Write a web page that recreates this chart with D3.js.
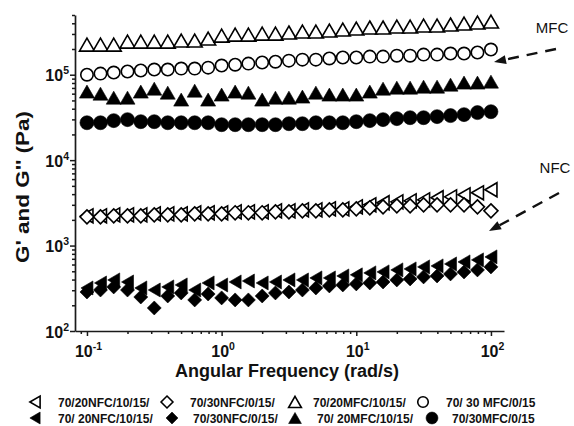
<!DOCTYPE html>
<html>
<head>
<meta charset="utf-8">
<script src="https://cdn.jsdelivr.net/npm/d3@7"></script>
<style>
  html, body { margin: 0; padding: 0; background: #fff; }
  svg { display: block; font-family: "Liberation Sans", Arial, sans-serif; }
</style>
</head>
<body>
<svg id="chart" width="574" height="426"></svg>
<script>
// Angular frequency sweep (rad/s), 10 points per decade
const frequency = [0.1, 0.126, 0.158, 0.2, 0.251, 0.316, 0.398, 0.501, 0.631, 0.794,
  1, 1.26, 1.58, 2, 2.51, 3.16, 3.98, 5.01, 6.31, 7.94,
  10, 12.6, 15.8, 20, 25.1, 31.6, 39.8, 50.1, 63.1, 79.4, 100];

// Moduli (Pa), open symbols
const openNfc20 = [2230, 2230, 2290, 2290, 2290, 2350, 2350, 2350, 2420, 2420,
  2420, 2480, 2480, 2480, 2550, 2550, 2620, 2620, 2690, 2690,
  2840, 3000, 3170, 3250, 3340, 3430, 3630, 3720, 3930, 4150, 4500];
const openNfc30 = [2170, 2170, 2230, 2230, 2230, 2290, 2290, 2290, 2350, 2350,
  2350, 2420, 2420, 2420, 2480, 2480, 2550, 2550, 2620, 2620,
  2690, 2770, 2840, 2920, 2920, 3000, 3000, 3000, 3000, 2840, 2550];
const openMfc20 = [225000, 225000, 225000, 244000, 244000, 244000, 244000, 251000, 251000, 265000,
  287000, 295000, 295000, 303000, 303000, 312000, 320000, 320000, 329000, 338000,
  347000, 357000, 357000, 366000, 366000, 376000, 376000, 387000, 397000, 408000, 419000];
const openMfc30 = [100000, 103000, 106000, 109000, 112000, 115000, 115000, 118000, 118000, 121000,
  128000, 131000, 135000, 139000, 142000, 146000, 150000, 150000, 155000, 159000,
  159000, 163000, 163000, 167000, 167000, 172000, 172000, 177000, 177000, 182000, 197000];

// Moduli (Pa), filled symbols
const filledNfc20 = [319, 365, 396, 375, 319, 302, 328, 346, 302, 365,
  346, 375, 385, 365, 375, 396, 396, 418, 418, 441,
  454, 479, 492, 519, 533, 563, 578, 610, 644, 680, 737];
const filledNfc30 = [286, 302, 328, 302, 250, 186, 257, 279, 231, 271,
  244, 231, 231, 257, 279, 286, 302, 319, 337, 346,
  356, 365, 375, 396, 407, 430, 441, 466, 492, 519, 563];
const filledMfc20 = [63400, 60000, 53900, 53900, 63400, 68700, 61700, 51100, 65100, 51100,
  58500, 63400, 61700, 51100, 53900, 53900, 55400, 61700, 58500, 58500,
  58500, 63400, 68700, 70600, 70600, 72500, 72500, 76500, 80800, 80800, 83000];
const filledMfc30 = [27400, 27400, 29000, 29800, 28200, 28200, 27400, 27400, 27400, 27400,
  26000, 26000, 26000, 26000, 26000, 26700, 26700, 27400, 27400, 27400,
  28200, 29000, 29800, 30600, 31400, 31400, 32300, 33200, 34100, 36000, 36900];

const legendLabels = ["70/20NFC/10/15/", "70/30NFC/0/15/", "70/20MFC/10/15/", "70/ 30 MFC/0/15",
  "70/ 20NFC/10/15/", "70/30NFC/0/15/", "70/ 20MFC/10/15/", "70/30MFC/0/15"];
const xTickExponents = [-1, 0, 1, 2];
const yTickExponents = [2, 3, 4, 5];
const xTitle = "Angular Frequency (rad/s)";
const yTitle = "G' and G'' (Pa)";

// Marker outlines, centred on the data point
const shapes = {
  left: (k) => { const w = 12 * k, h = 14 * k; return `M${-w / 2},0L${w / 2},${-h / 2}L${w / 2},${h / 2}Z`; },
  diamond: (k) => { const s = 7 * k; return `M0,${-s}L${s},0L0,${s}L${-s},0Z`; },
  up: (k) => { const w = 15 * k, h = 13 * k; return `M0,${-h / 2}L${w / 2},${h / 2}L${-w / 2},${h / 2}Z`; },
  circle: (k) => { const r = 6.2 * k; return `M${-r},0a${r},${r} 0 1,0 ${2 * r},0a${r},${r} 0 1,0 ${-2 * r},0Z`; },
  dot: (k) => { const r = 7 * k; return `M${-r},0a${r},${r} 0 1,0 ${2 * r},0a${r},${r} 0 1,0 ${-2 * r},0Z`; }
};

const series = [
  { values: openNfc20, shape: "left", filled: false },
  { values: openNfc30, shape: "diamond", filled: false },
  { values: openMfc20, shape: "up", filled: false },
  { values: openMfc30, shape: "circle", filled: false },
  { values: filledNfc20, shape: "left", filled: true },
  { values: filledNfc30, shape: "diamond", filled: true },
  { values: filledMfc20, shape: "up", filled: true },
  { values: filledMfc30, shape: "dot", filled: true }
];

const svg = d3.select("#chart");
const x = d3.scaleLog().domain([0.0815, 125]).range([75, 504]);
const y = d3.scaleLog().domain([100, 500000]).range([331, 15]);

function minorValues(scale) {
  const [a, b] = scale.domain();
  const out = [];
  for (let e = Math.floor(Math.log10(a)); e <= Math.ceil(Math.log10(b)); e++) {
    for (let m = 2; m <= 9; m++) {
      const v = m * Math.pow(10, e);
      if (v >= a && v <= b) out.push(v);
    }
  }
  return out;
}

const axisColor = "#1a1a1a";

// X axis: minor then major ticks
const gxMinor = svg.append("g").attr("transform", "translate(0,331)")
  .call(d3.axisBottom(x).tickValues(minorValues(x)).tickSize(3).tickSizeOuter(0).tickFormat(""));
const gx = svg.append("g").attr("transform", "translate(0,331)")
  .call(d3.axisBottom(x).tickValues(xTickExponents.map(e => Math.pow(10, e))).tickSize(5).tickSizeOuter(0));
gxMinor.select(".domain").remove();

// Y axis: minor then major ticks
const gyMinor = svg.append("g").attr("transform", "translate(75,0)")
  .call(d3.axisLeft(y).tickValues(minorValues(y)).tickSize(3).tickSizeOuter(0).tickFormat(""));
const gy = svg.append("g").attr("transform", "translate(75,0)")
  .call(d3.axisLeft(y).tickValues(yTickExponents.map(e => Math.pow(10, e))).tickSize(5).tickSizeOuter(0));
gyMinor.select(".domain").remove();

[gx, gy, gxMinor, gyMinor].forEach(g => {
  g.selectAll("line").attr("stroke", axisColor).attr("stroke-width", 1.5);
  g.selectAll(".domain").attr("stroke", axisColor).attr("stroke-width", 1.7);
});

// Power-of-ten tick labels with superscript exponents
function powerLabel(sel) {
  sel.each(function (d) {
    const t = d3.select(this);
    const exp = Math.round(Math.log10(d));
    t.text(null)
      .attr("fill", "#111").attr("font-weight", "bold").attr("font-size", 16)
      .attr("font-family", "'Liberation Sans', Arial, sans-serif");
    t.append("tspan").text("10");
    t.append("tspan").attr("dy", -7).attr("font-size", 10.5).text(String(exp));
  });
}
gx.selectAll(".tick text").call(powerLabel)
  .attr("y", 0).attr("dy", 0)
  .attr("transform", "translate(1,26)");
gy.selectAll(".tick text").call(powerLabel)
  .attr("x", -6).attr("dy", 6).attr("text-anchor", "end");

// Axis titles
svg.append("text")
  .attr("x", 287).attr("y", 377)
  .attr("text-anchor", "middle")
  .attr("font-weight", "bold").attr("font-size", 18).attr("fill", "#111")
  .text(xTitle);
svg.append("text")
  .attr("transform", "translate(29,187) rotate(-90)")
  .attr("text-anchor", "middle")
  .attr("font-weight", "bold").attr("font-size", 19).attr("fill", "#111")
  .attr("textLength", 152).attr("lengthAdjust", "spacingAndGlyphs")
  .text(yTitle);

// Data markers
const plot = svg.append("g");
series.forEach(s => {
  plot.append("g").selectAll("path")
    .data(s.values.map((v, i) => ({ f: frequency[i], v })))
    .join("path")
    .attr("transform", d => `translate(${x(d.f)},${y(d.v)})`)
    .attr("d", shapes[s.shape](1))
    .attr("fill", s.filled ? "#000" : "#fff")
    .attr("stroke", "#000")
    .attr("stroke-width", s.filled ? 0.6 : 1.6)
    .attr("stroke-linejoin", "miter");
});

// Legend (two rows of four)
const legendRows = [402, 418];
const legendMarkerX = [[35, 167, 295, 423], [35, 172, 295, 432]];
const legendTextX = [[58, 190, 313, 446], [58, 193, 317, 452]];
const legend = svg.append("g");
series.forEach((s, i) => {
  const row = Math.floor(i / 4), col = i % 4;
  const cy = legendRows[row];
  legend.append("path")
    .attr("transform", `translate(${legendMarkerX[row][col]},${cy})`)
    .attr("d", shapes[s.shape](0.85))
    .attr("fill", s.filled ? "#000" : "#fff")
    .attr("stroke", "#000")
    .attr("stroke-width", s.filled ? 0.6 : 1.6);
  legend.append("text")
    .attr("x", legendTextX[row][col]).attr("y", cy + 4.5)
    .attr("font-weight", "bold").attr("font-size", 12).attr("fill", "#111")
    .text(legendLabels[i]);
});

// Group annotations with dashed pointers
const notes = [
  { label: "MFC", tx: 552, ty: 33, from: [556, 49], to: [494, 62] },
  { label: "NFC", tx: 555, ty: 173, from: [559, 193], to: [489, 231] }
];
const ann = svg.append("g");
notes.forEach(n => {
  ann.append("text")
    .attr("x", n.tx).attr("y", n.ty).attr("text-anchor", "middle")
    .attr("font-size", 15).attr("fill", "#111")
    .text(n.label);
  const [x1, y1] = n.from, [x2, y2] = n.to;
  const ang = Math.atan2(y2 - y1, x2 - x1);
  const headLen = 12, headW = 4.5;
  const bx = x2 - headLen * Math.cos(ang), by = y2 - headLen * Math.sin(ang);
  ann.append("line")
    .attr("x1", x1).attr("y1", y1).attr("x2", bx).attr("y2", by)
    .attr("stroke", "#111").attr("stroke-width", 2.4)
    .attr("stroke-dasharray", "11,8");
  const px = -Math.sin(ang), py = Math.cos(ang);
  ann.append("path")
    .attr("d", `M${x2},${y2}L${bx + px * headW},${by + py * headW}L${bx - px * headW},${by - py * headW}Z`)
    .attr("fill", "#111");
});
</script>
</body>
</html>
